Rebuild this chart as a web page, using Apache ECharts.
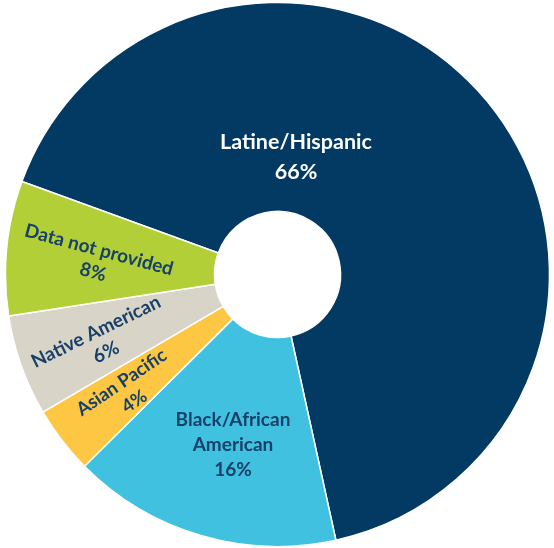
<!DOCTYPE html>
<html>
<head>
<meta charset="utf-8">
<script src="https://cdn.jsdelivr.net/npm/echarts@6/dist/echarts.min.js"></script>
<style>
html,body{margin:0;padding:0;background:#fff;}
#c{width:554px;height:548px;}
</style>
</head>
<body>
<div id="c"></div>
<script>
// Data
var categories = ['Latine/Hispanic', 'Black/African\nAmerican', 'Asian Pacific', 'Native American', 'Data not provided'];
var values = [66, 16, 4, 6, 8];
var percentLabels = ['66%', '16%', '4%', '6%', '8%'];

// Styling
var colors = ['#023a64', '#41c1e0', '#fdc743', '#d9d4c8', '#b3cf37'];
var labelColors = ['#ffffff', '#17406a', '#17406a', '#17406a', '#17406a'];
var labelRotate = [0, 0, 34, 26, -15];
var labelPos = [[296, 157], [233, 445], [128, 392], [101, 342], [96, 261]];
var lineHeights = [30, 25, 23, 23, 23];
var fontSizes = [21.5, 19, 18.5, 19, 19];

var chart = echarts.init(document.getElementById('c'), null, {renderer: 'canvas'});
var data = categories.map(function (c, i) {
  return {
    name: c,
    value: values[i],
    itemStyle: {color: colors[i]},
    label: {
      color: labelColors[i],
      rotate: labelRotate[i],
      lineHeight: lineHeights[i],
      fontSize: fontSizes[i]
    }
  };
});
chart.setOption({
  animation: false,
  series: [{
    type: 'pie',
    center: [277.5, 274.5],
    radius: [63, 272],
    startAngle: 160,
    clockwise: true,
    avoidLabelOverlap: false,
    itemStyle: {borderColor: '#ffffff', borderWidth: 1.5},
    label: {
      show: true,
      position: 'inside',
      fontFamily: 'Lato',
      fontWeight: 'bold',
      align: 'center',
      formatter: function (p) { return p.name + '\n' + percentLabels[p.dataIndex]; }
    },
    labelLine: {show: false},
    labelLayout: function (p) {
      var pos = labelPos[p.dataIndex];
      return {x: pos[0], y: pos[1], align: 'center', verticalAlign: 'middle'};
    },
    emphasis: {disabled: true},
    data: data
  }]
});
</script>
</body>
</html>
